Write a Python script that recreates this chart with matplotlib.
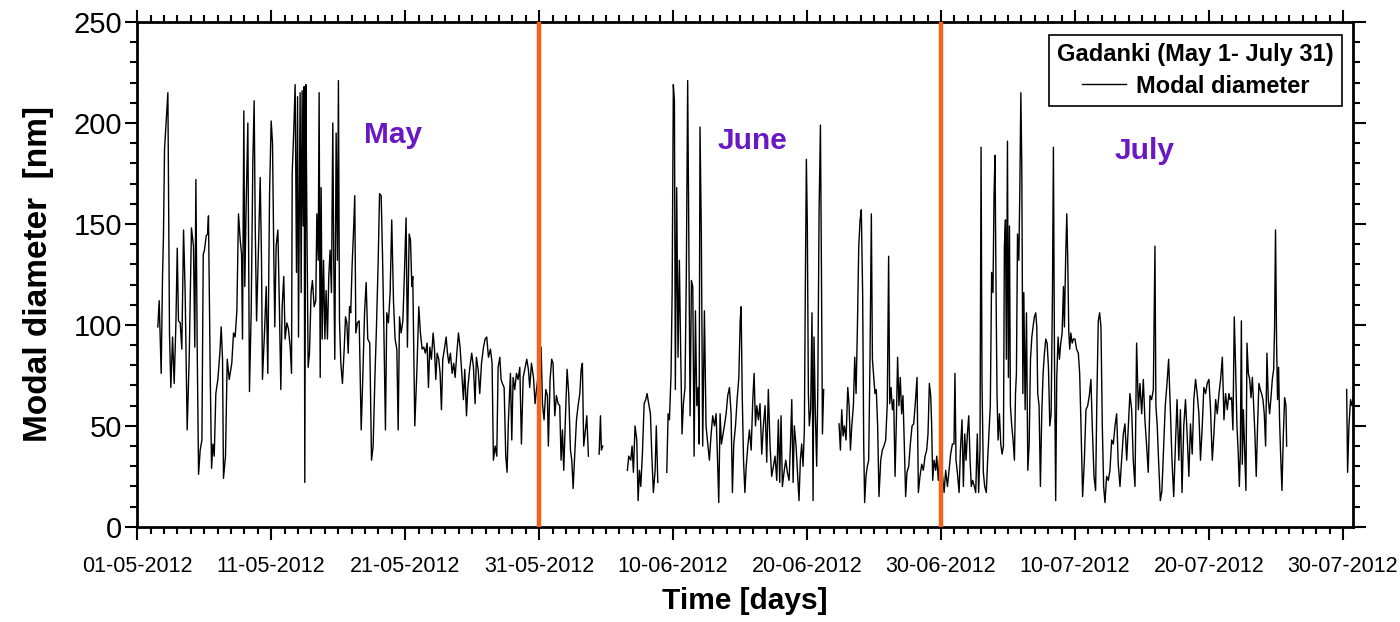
import numpy as np
import matplotlib.pyplot as plt
from matplotlib.ticker import MultipleLocator

# time in days since 01-05-2012 00:00, modal diameter in nm (NaN = no data)
days = [
    1.54, 1.64, 1.79, 1.89, 1.96, 2.04, 2.14, 2.29, 2.34, 2.41, 2.51, 2.64, 2.76, 2.89, 2.99,
    3.08, 3.21, 3.33, 3.46, 3.58, 3.73, 3.88, 4.05, 4.20, 4.30, 4.38, 4.48, 4.58, 4.70, 4.83,
    4.93, 5.02, 5.15, 5.25, 5.32, 5.45, 5.55, 5.65, 5.75, 5.87, 6.02, 6.17, 6.27, 6.37, 6.44,
    6.59, 6.72, 6.87, 7.06, 7.19, 7.31, 7.44, 7.56, 7.69, 7.79, 7.86, 7.96, 8.03, 8.13, 8.26,
    8.38, 8.51, 8.63, 8.73, 8.81, 8.91, 9.06, 9.18, 9.28, 9.35, 9.50, 9.63, 9.75, 9.88, 10.00,
    10.10, 10.20, 10.27, 10.37, 10.50, 10.62, 10.72, 10.82, 10.94, 11.04, 11.17, 11.29, 11.42,
    11.52, 11.57, 11.69, 11.79, 11.89, 11.97, 12.04,
    12.16, 12.24, 12.31, 12.39, 12.46, 12.51, 12.59, 12.66, 12.76, 12.86, 12.98, 13.08, 13.21,
    13.33, 13.41, 13.51, 13.58, 13.66, 13.73, 13.81, 13.91, 14.01, 14.10, 14.20, 14.30, 14.40,
    14.50, 14.60, 14.67, 14.75, 14.85, 14.95, 15.02, 15.10, 15.20, 15.32, 15.45, 15.55, 15.65,
    15.75, 15.85, 15.94, 16.04, 16.14, 16.24, 16.32, 16.44, 16.57, 16.72, 16.84, 16.97, 17.09,
    17.21, 17.36, 17.49, 17.61, 17.74, 17.86, 17.99, 18.09, 18.21, 18.31, 18.41, 18.53, 18.63,
    18.75, 18.88, 19.00, 19.13, 19.25, 19.38, 19.48, 19.58, 19.70, 19.83, 19.95, 20.07, 20.17,
    20.30, 20.40, 20.50, 20.57, 20.65, 20.72, 20.87, 21.02, 21.14, 21.27, 21.39, 21.51, 21.64,
    21.74, 21.84, 21.96, 22.09, 22.19, 22.29, 22.39, 22.51, 22.61, 22.71, 22.81, 22.93, 23.06,
    23.16, 23.26, 23.38, 23.51, 23.63,
    23.73, 23.86, 23.98, 24.10, 24.23, 24.35, 24.45, 24.58, 24.68, 24.83, 24.97, 25.10, 25.22,
    25.32, 25.45, 25.57, 25.70, 25.85, 25.97, 26.09, 26.22, 26.37, 26.49, 26.59, 26.72, 26.84,
    26.94, 27.07, 27.16, 27.26, 27.39, 27.51, 27.61, 27.71, 27.86, 27.96, 28.06, 28.18, 28.31,
    28.43, 28.56, 28.68, 28.81, 28.96, 29.08, 29.20, 29.30, 29.43, 29.58, 29.70, 29.82, 29.95,
    30.07, 30.15, 30.25, 30.37, 30.50, 30.62, 30.69, 30.82, 30.94, 31.04, 31.17, 31.29, 31.42,
    31.54, 31.64, 31.74, 31.84, 31.97, 32.09, 32.21, 32.34, 32.44, 32.54, 32.66, 32.79, 32.91,
    33.04, 33.14, 33.23, 33.33, 33.43, 33.56, 33.68,
    34.00,
    34.48, 34.58, 34.65, 34.75,
    35.50,
    36.59, 36.69, 36.84, 36.94, 37.04, 37.16, 37.29, 37.39, 37.49, 37.59, 37.71, 37.84, 37.96,
    38.06, 38.18, 38.31, 38.41, 38.53, 38.66, 38.75, 38.86,
    39.20,
    39.53, 39.63, 39.73, 39.85, 39.93, 40.02, 40.10, 40.17, 40.27, 40.37, 40.47, 40.57, 40.67,
    40.77, 40.89, 40.99, 41.09, 41.19, 41.27, 41.37, 41.47, 41.57, 41.67, 41.77, 41.87, 41.94,
    42.01, 42.11, 42.21, 42.34, 42.46, 42.59, 42.71, 42.84, 42.96, 43.09, 43.21, 43.31, 43.41,
    43.51, 43.61, 43.71, 43.83, 43.96, 44.08, 44.21, 44.33, 44.43, 44.53, 44.66, 44.78, 44.91,
    45.01, 45.08, 45.16, 45.26, 45.36, 45.46, 45.58, 45.70, 45.83, 45.95, 46.05, 46.15, 46.25,
    46.37, 46.49, 46.62, 46.74,
    46.87, 46.99, 47.11, 47.24, 47.36, 47.49, 47.61, 47.74, 47.86, 47.96, 48.06, 48.16, 48.28,
    48.41, 48.53, 48.66, 48.76, 48.86, 48.96, 49.05, 49.18, 49.30, 49.40, 49.50, 49.60, 49.70,
    49.80, 49.87, 49.95, 50.02, 50.10, 50.17, 50.27, 50.37, 50.45, 50.52, 50.62, 50.72, 50.80,
    50.90, 51.00, 51.07, 51.15, 51.24,
    51.80,
    52.39, 52.49, 52.59, 52.69, 52.79, 52.91, 53.04, 53.14, 53.24, 53.34, 53.46, 53.56, 53.66,
    53.76, 53.86, 53.96, 54.05, 54.15, 54.23, 54.30, 54.40, 54.50, 54.60, 54.70, 54.80, 54.88,
    54.98, 55.07, 55.17, 55.27, 55.37, 55.50, 55.62, 55.74, 55.87, 55.99, 56.09, 56.17, 56.27,
    56.37, 56.47, 56.57, 56.66, 56.76, 56.86, 56.96, 57.06, 57.16, 57.26, 57.36, 57.46, 57.59,
    57.71, 57.84, 57.96, 58.08, 58.21, 58.31,
    58.43, 58.56, 58.68, 58.81, 58.93, 59.03, 59.13, 59.23, 59.30, 59.38, 59.48, 59.60, 59.68,
    59.80, 59.93, 60.23, 60.35, 60.48, 60.60, 60.72, 60.85, 60.97, 61.04, 61.12, 61.22, 61.35,
    61.45, 61.57, 61.67, 61.77, 61.87, 61.97, 62.07, 62.17, 62.26, 62.36, 62.49, 62.59, 62.71,
    62.81, 62.91, 62.99, 63.06, 63.16, 63.26, 63.38, 63.48, 63.58, 63.68, 63.78, 63.88, 63.96,
    64.03, 64.11, 64.18, 64.26, 64.36, 64.46, 64.56, 64.66, 64.73, 64.81, 64.88, 64.96, 65.03,
    65.11, 65.18, 65.28, 65.38, 65.48, 65.56, 65.63, 65.71, 65.81, 65.88, 65.96, 66.03, 66.11,
    66.18, 66.28, 66.38, 66.48, 66.58, 66.68, 66.78, 66.87, 66.97, 67.07, 67.15, 67.22, 67.32,
    67.42, 67.52, 67.62, 67.72, 67.82, 67.92, 68.02, 68.12, 68.22, 68.32, 68.39, 68.47, 68.56,
    68.64, 68.74, 68.84, 68.94, 69.04, 69.14, 69.21, 69.31, 69.39, 69.46, 69.54, 69.61, 69.69,
    69.79, 69.89,
    70.00, 70.12, 70.25, 70.35, 70.45, 70.57, 70.70, 70.82, 70.95, 71.07, 71.19, 71.29, 71.42,
    71.54, 71.64, 71.74, 71.84, 71.94, 72.04, 72.14, 72.24, 72.36, 72.49, 72.61, 72.74, 72.86,
    72.99, 73.11, 73.23, 73.36, 73.48, 73.61, 73.73, 73.86, 73.98, 74.10, 74.23, 74.35, 74.48,
    74.60, 74.73, 74.85, 74.98, 75.10, 75.22, 75.35, 75.47, 75.60, 75.72, 75.85, 75.97, 76.04,
    76.14, 76.24, 76.37, 76.49, 76.62, 76.74, 76.87, 76.99, 77.12, 77.24, 77.37, 77.50, 77.62,
    77.75, 77.87, 77.99, 78.12, 78.25, 78.37, 78.50, 78.62, 78.75, 78.87, 79.00, 79.12, 79.25,
    79.37, 79.50, 79.62, 79.75, 79.87, 80.00, 80.12, 80.25, 80.37, 80.50, 80.62, 80.75, 80.87,
    81.00, 81.12, 81.24, 81.37, 81.49,
    81.57, 81.69, 81.79, 81.89, 81.99, 82.09, 82.19, 82.27, 82.34, 82.42, 82.49, 82.57, 82.67,
    82.76, 82.84, 82.94, 83.04, 83.14, 83.24, 83.34, 83.43, 83.53, 83.63, 83.73, 83.83, 83.93,
    84.03, 84.13, 84.23, 84.33, 84.43, 84.53, 84.63, 84.73, 84.83, 84.90, 84.97, 85.05, 85.12,
    85.20, 85.27, 85.35, 85.45, 85.55, 85.65, 85.75, 85.80,
    88.00,
    90.28, 90.35, 90.45, 90.57, 90.67, 90.77,
]

diameter = [
    99, 112, 76, 124, 144, 187, 198, 215, 165, 96, 69, 94, 71, 101, 138,
    102, 101, 88, 147, 116, 48, 83, 148, 139, 89, 172, 88, 26, 38, 43,
    135, 137, 144, 145, 154, 76, 29, 41, 35, 66, 73, 86, 99, 83, 24,
    35, 83, 73, 81, 96, 94, 107, 155, 142, 135, 93, 206, 119, 158, 200,
    67, 107, 180, 211, 149, 102, 140, 173, 132, 73, 96, 119, 76, 165, 201,
    190, 132, 99, 139, 147, 107, 68, 109, 124, 93, 101, 98, 89,
    76, 175, 197, 219, 126, 213, 94,
    215, 116, 216, 149, 218, 22, 219, 157, 79, 86, 116, 122, 109,
    112, 155, 132, 215, 74, 168, 93, 132, 93, 117, 93, 124, 137,
    116, 200, 132, 83, 195, 132, 221, 102, 81, 71, 88, 104, 101,
    86, 109, 106, 129, 145, 164, 96, 101, 102, 48, 74, 106, 121,
    93, 91, 33, 40, 73, 99, 132, 165, 164, 135, 99, 48, 106,
    101, 116, 152, 112, 93, 88, 48, 104, 96, 102, 126, 153, 89,
    145, 142, 119, 124, 83, 50, 76, 109, 96, 88, 89, 86, 91,
    69, 89, 83, 96, 88, 73, 86, 83, 76, 58, 83, 88, 94,
    86, 81, 86, 76, 81,
    74, 86, 96, 89, 76, 63, 78, 55, 69, 79, 86, 79, 61,
    84, 78, 66, 81, 89, 93, 94, 84, 88, 81, 33, 40, 35,
    79, 84, 73, 71, 69, 35, 27, 53, 76, 43, 74, 68, 76,
    73, 79, 41, 74, 79, 83, 78, 69, 81, 74, 61, 69, 76,
    66, 89, 61, 53, 68, 65, 40, 73, 83, 81, 55, 65, 61,
    60, 33, 48, 28, 55, 78, 66, 38, 33, 19, 36, 53, 60,
    66, 78, 81, 40, 46, 55, 35,
    np.nan,
    36, 55, 38, 40,
    np.nan,
    28, 35, 33, 40, 27, 50, 43, 13, 28, 20, 36, 61, 63,
    66, 61, 56, 36, 17, 28, 50, 22,
    np.nan,
    27, 56, 53, 76, 116, 219, 211, 68, 168, 84, 132, 86, 46,
    61, 69, 126, 221, 132, 55, 122, 119, 35, 107, 60, 69, 41,
    198, 145, 40, 107, 50, 41, 33, 46, 55, 50, 56, 35, 12,
    56, 41, 45, 50, 56, 65, 69, 56, 17, 41, 50, 63, 74,
    102, 109, 66, 33, 17, 30, 40, 48, 38, 63, 76, 50, 60,
    53, 61, 36, 50,
    60, 32, 68, 40, 25, 30, 35, 23, 53, 22, 55, 20, 27,
    33, 27, 23, 40, 63, 22, 50, 40, 25, 13, 33, 41, 30,
    48, 116, 182, 150, 66, 50, 58, 106, 13, 94, 56, 30, 66,
    157, 199, 132, 46, 68,
    np.nan,
    51, 38, 58, 45, 50, 43, 69, 60, 38, 50, 60, 84, 66,
    99, 139, 152, 157, 116, 41, 12, 25, 30, 33, 83, 155, 83,
    74, 66, 68, 50, 15, 33, 38, 40, 43, 61, 134, 61, 69,
    58, 63, 25, 50, 84, 60, 74, 56, 65, 41, 15, 27, 30,
    41, 50, 51, 61, 74, 17,
    25, 31, 28, 35, 38, 46, 71, 65, 51, 23, 33, 28, 35,
    23, 38, 17, 28, 20, 28, 36, 41, 41, 76, 33, 27, 17,
    38, 53, 20, 46, 33, 46, 55, 33, 20, 23, 20, 17, 46,
    17, 38, 188, 71, 27, 20, 17, 33, 46, 60, 126, 116, 165,
    184, 116, 66, 43, 56, 41, 36, 40, 139, 152, 83, 191, 74,
    149, 60, 50, 43, 33, 66, 76, 145, 132, 165, 215, 178, 66,
    116, 58, 106, 28, 41, 83, 94, 99, 104, 106, 99, 66, 60,
    20, 56, 76, 86, 93, 91, 79, 50, 56, 116, 188, 83, 13,
    74, 94, 83, 91, 96, 119, 99, 135, 155, 132, 96, 88, 96,
    91, 93,
    93, 88, 86, 76, 50, 15, 33, 58, 60, 65, 73, 50, 25,
    18, 66, 102, 106, 99, 50, 20, 12, 25, 23, 28, 43, 41,
    50, 56, 31, 20, 33, 46, 51, 33, 50, 66, 58, 33, 20,
    91, 58, 71, 56, 73, 53, 40, 27, 65, 63, 68, 139, 60,
    50, 33, 13, 18, 40, 60, 71, 83, 58, 33, 15, 41, 63,
    33, 58, 17, 50, 63, 46, 25, 51, 36, 63, 73, 66, 56,
    33, 50, 69, 66, 71, 73, 58, 33, 46, 63, 56, 66, 73,
    84, 53, 66, 58, 66,
    63, 64, 48, 104, 79, 50, 36, 20, 36, 102, 31, 58, 36,
    18, 91, 76, 73, 64, 74, 60, 46, 25, 50, 71, 68, 66,
    63, 56, 40, 86, 63, 56, 64, 73, 78, 99, 147, 91, 63,
    79, 53, 36, 18, 45, 64, 60, 40,
    np.nan,
    68, 27, 50, 63, 60, 64,
]

tick_days = [0, 10, 20, 30, 40, 50, 60, 70, 80, 90]
tick_labels = ['01-05-2012', '11-05-2012', '21-05-2012', '31-05-2012', '10-06-2012',
               '20-06-2012', '30-06-2012', '10-07-2012', '20-07-2012', '30-07-2012']
month_breaks = [30, 60]
month_names = ['May', 'June', 'July']
month_label_pos = [(19.1, 194), (45.9, 191), (75.2, 186)]

plt.rcParams['font.family'] = ['Liberation Sans', 'DejaVu Sans']

fig = plt.figure(figsize=(14, 6.22), dpi=100)
ax = fig.add_axes([0.098, 0.153, 0.8684, 0.8116])

ax.plot(days, diameter, color='black', linewidth=1.0, label='Modal diameter')
for d in month_breaks:
    ax.axvline(d, color='#f4631c', linewidth=3.2, zorder=3)

for name, (xd, yv) in zip(month_names, month_label_pos):
    ax.text(xd, yv, name, color='#6a18c4', fontsize=21.5, fontweight='bold', ha='center', va='center')

ax.set_xlim(0, 90.75)
ax.set_ylim(0, 250)
ax.set_xticks(tick_days)
ax.set_xticklabels(tick_labels)
ax.xaxis.set_minor_locator(MultipleLocator(1))
ax.yaxis.set_major_locator(MultipleLocator(50))
ax.yaxis.set_minor_locator(MultipleLocator(10))

ax.tick_params(which='both', direction='out', top=True, right=True, width=1.5)
ax.tick_params(which='major', length=9)
ax.tick_params(which='minor', length=5)
ax.tick_params(axis='x', labelsize=15.5, pad=12)
ax.tick_params(axis='y', labelsize=21, pad=2)
for sp in ax.spines.values():
    sp.set_linewidth(2)

ax.set_xlabel('Time [days]', fontsize=21.5, fontweight='bold', labelpad=7)
ax.set_ylabel('Modal diameter  [nm]', fontsize=24, fontweight='bold', labelpad=14)

leg = ax.legend(loc='upper right', title='Gadanki (May 1- July 31)', fancybox=False,
                framealpha=1, edgecolor='black', borderpad=0.35, borderaxespad=0,
                handlelength=1.9, handletextpad=0.4, labelspacing=0.2,
                prop={'size': 17, 'weight': 'bold'}, bbox_to_anchor=(0.991, 0.974))
leg._legend_box.sep = 6
leg.get_title().set_fontsize(17)
leg.get_title().set_fontweight('bold')
leg.get_frame().set_linewidth(1.2)

fig.savefig('out.png', dpi=100)
